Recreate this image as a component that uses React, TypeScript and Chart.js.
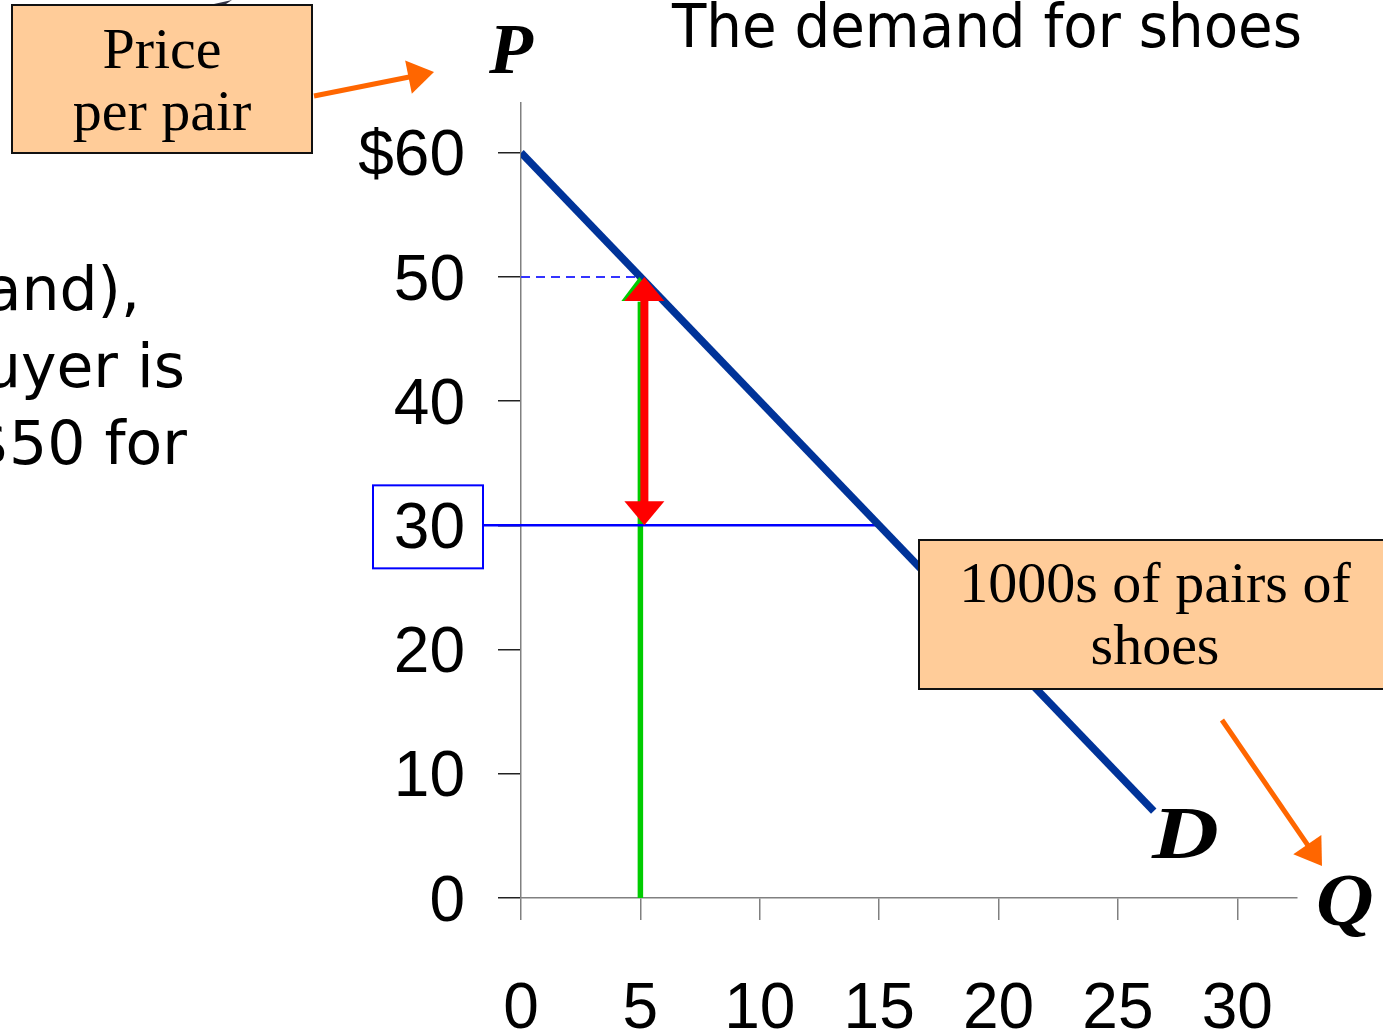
import React, { useEffect, useRef } from 'react';
import { Chart, registerables } from 'chart.js';

Chart.register(...registerables);

// ---- data ----
const demandQ = [0, 26.5];
const demandP = [60, 7];
const xTicks = [0, 5, 10, 15, 20, 25, 30];
const yTicks = [0, 10, 20, 30, 40, 50, 60];
const buyerQ = 5;
const willingPrice = 50;
const marketPrice = 30;
const marketQ = 15;
const xMax = 32.5;
const yMax = 64;
const titleText = 'The demand for shoes';
const sideLines = ['and),', 'uyer is', '$50 for'];
const priceBoxLines = ['Price', 'per pair'];
const qtyBoxLines = ['1000s of pairs of', 'shoes'];

const W = 1383;
const H = 1035;

function head(ctx: CanvasRenderingContext2D, x: number, y: number, angle: number, len: number, halfW: number, color: string) {
  ctx.save();
  ctx.translate(x, y);
  ctx.rotate(angle);
  ctx.beginPath();
  ctx.moveTo(0, 0);
  ctx.lineTo(-len, -halfW);
  ctx.lineTo(-len, halfW);
  ctx.closePath();
  ctx.fillStyle = color;
  ctx.fill();
  ctx.restore();
}

function orangeArrow(ctx: CanvasRenderingContext2D, x1: number, y1: number, x2: number, y2: number) {
  const a = Math.atan2(y2 - y1, x2 - x1);
  const len = 26;
  ctx.save();
  ctx.strokeStyle = '#ff6600';
  ctx.lineWidth = 5;
  ctx.beginPath();
  ctx.moveTo(x1, y1);
  ctx.lineTo(x2 - Math.cos(a) * (len - 2), y2 - Math.sin(a) * (len - 2));
  ctx.stroke();
  ctx.restore();
  head(ctx, x2, y2, a, len, 17, '#ff6600');
}

function box(ctx: CanvasRenderingContext2D, x: number, y: number, w: number, h: number) {
  ctx.save();
  ctx.fillStyle = '#ffcc99';
  ctx.fillRect(x, y, w, h);
  ctx.strokeStyle = '#111';
  ctx.lineWidth = 2;
  ctx.strokeRect(x, y, w, h);
  ctx.restore();
}

function wideLetter(ctx: CanvasRenderingContext2D, t: string, x: number, y: number, sx: number) {
  ctx.save();
  ctx.translate(x, y);
  ctx.scale(sx, 1);
  ctx.fillText(t, 0, 0);
  ctx.restore();
}

const overlay = {
  id: 'overlay',
  beforeDatasetsDraw(chart: any) {
    const ctx = chart.ctx as CanvasRenderingContext2D;
    const xs = chart.scales.x;
    const ys = chart.scales.y;
    const py = ys.getPixelForValue(marketPrice);
    ctx.save();
    ctx.strokeStyle = '#0000ff';
    ctx.lineWidth = 2.5;
    ctx.beginPath();
    ctx.moveTo(483, py);
    ctx.lineTo(xs.getPixelForValue(0), py);
    ctx.stroke();
    ctx.restore();
  },
  afterDatasetsDraw(chart: any) {
    const ctx = chart.ctx as CanvasRenderingContext2D;
    const xs = chart.scales.x;
    const ys = chart.scales.y;
    const qx = xs.getPixelForValue(buyerQ);
    const yTop = ys.getPixelForValue(willingPrice);
    const yBot = ys.getPixelForValue(marketPrice);
    head(ctx, qx - 1, yTop, -Math.PI / 2, 24, 18, '#00cc00');
    const rx = qx + 4;
    ctx.save();
    ctx.strokeStyle = '#ff0000';
    ctx.lineWidth = 8;
    ctx.beginPath();
    ctx.moveTo(rx, yTop + 20);
    ctx.lineTo(rx, yBot - 20);
    ctx.stroke();
    ctx.restore();
    head(ctx, rx, yTop, -Math.PI / 2, 24, 20, '#ff0000');
    head(ctx, rx, yBot, Math.PI / 2, 24, 20, '#ff0000');
  },
  afterDraw(chart: any) {
    const ctx = chart.ctx as CanvasRenderingContext2D;
    const ys = chart.scales.y;
    ctx.save();
    const py = ys.getPixelForValue(marketPrice);
    ctx.strokeStyle = '#0000ff';
    ctx.lineWidth = 2;
    ctx.strokeRect(373, py - 40, 110, 83);

    ctx.fillStyle = '#000';
    ctx.textAlign = 'left';
    ctx.textBaseline = 'alphabetic';
    ctx.font = '60px "DejaVu Sans", Verdana, sans-serif';
    ctx.fillText(titleText, 672, 47, 630);

    ctx.textAlign = 'right';
    const sideX = [140, 185, 187];
    const sideY = [310, 387, 464];
    sideLines.forEach((t, i) => ctx.fillText(t, sideX[i], sideY[i]));

    box(ctx, 12, 5, 300, 148);
    ctx.fillStyle = '#000';
    ctx.textAlign = 'center';
    ctx.font = '58px "Liberation Serif", "Times New Roman", serif';
    ctx.fillText(priceBoxLines[0], 162, 68);
    ctx.fillText(priceBoxLines[1], 162, 130);
    orangeArrow(ctx, 314, 96, 434, 72);

    box(ctx, 919, 540, 480, 149);
    ctx.fillStyle = '#000';
    ctx.fillText(qtyBoxLines[0], 1155, 602);
    ctx.fillText(qtyBoxLines[1], 1155, 664);
    orangeArrow(ctx, 1222, 720, 1322, 866);

    ctx.textAlign = 'left';
    ctx.font = 'italic bold 72px "Liberation Serif", "Times New Roman", serif';
    ctx.fillText('P', 489, 73);
    ctx.font = 'italic bold 74px "Liberation Serif", "Times New Roman", serif';
    wideLetter(ctx, 'D', 1152, 858, 1.25);
    wideLetter(ctx, 'Q', 1316, 925, 1.08);

    ctx.fillStyle = '#333344';
    ctx.beginPath();
    ctx.moveTo(214, 4);
    ctx.lineTo(232, 0);
    ctx.lineTo(226, 4);
    ctx.closePath();
    ctx.fill();
    ctx.restore();
  },
};

export default function App() {
  const ref = useRef<HTMLCanvasElement | null>(null);
  useEffect(() => {
    if (!ref.current) return;
    const tickFont = { family: '"Liberation Sans", Arial, sans-serif', size: 64 };
    const chart = new Chart(ref.current, {
      type: 'scatter',
      data: {
        datasets: [
          {
            label: 'Demand',
            data: demandQ.map((q, i) => ({ x: q, y: demandP[i] })),
            showLine: true,
            borderColor: '#003399',
            borderWidth: 7.5,
            pointRadius: 0,
            borderCapStyle: 'butt',
          },
          {
            label: 'Market price',
            data: [
              { x: 0, y: marketPrice },
              { x: marketQ, y: marketPrice },
            ],
            showLine: true,
            borderColor: '#0000ff',
            borderWidth: 2.5,
            pointRadius: 0,
          },
          {
            label: 'Willingness',
            data: [
              { x: 0, y: willingPrice },
              { x: buyerQ, y: willingPrice },
            ],
            showLine: true,
            borderColor: '#3333ff',
            borderWidth: 2,
            borderDash: [9, 6],
            pointRadius: 0,
          },
          {
            label: 'Quantity',
            data: [
              { x: buyerQ, y: 0 },
              { x: buyerQ, y: willingPrice - 2 },
            ],
            showLine: true,
            borderColor: '#00cc00',
            borderWidth: 5.5,
            pointRadius: 0,
          },
        ],
      },
      options: {
        responsive: false,
        animation: false,
        events: [],
        layout: { padding: { left: 0, right: 86, top: 103, bottom: 0 } },
        plugins: { legend: { display: false }, tooltip: { enabled: false }, title: { display: false } },
        scales: {
          x: {
            type: 'linear',
            min: 0,
            max: xMax,
            afterBuildTicks: (s: any) => {
              s.ticks = xTicks.map((v) => ({ value: v }));
            },
            afterFit: (s: any) => {
              s.height = H - 898;
            },
            border: { display: true, color: '#808080', width: 1.5 },
            grid: { drawOnChartArea: false, drawTicks: true, tickLength: 22, color: '#808080', lineWidth: 1.5 },
            ticks: { font: tickFont, color: '#000', padding: 52, maxRotation: 0, autoSkip: false },
          },
          y: {
            type: 'linear',
            min: 0,
            max: yMax,
            afterBuildTicks: (s: any) => {
              s.ticks = yTicks.map((v) => ({ value: v }));
            },
            afterFit: (s: any) => {
              s.width = 521;
            },
            border: { display: true, color: '#808080', width: 1.5 },
            grid: { drawOnChartArea: false, drawTicks: true, tickLength: 23, color: '#222', lineWidth: 1.5 },
            ticks: {
              font: tickFont,
              color: '#000',
              padding: 33,
              labelOffset: 5,
              autoSkip: false,
              callback: (v: any) => (v === 60 ? '$' + v : String(v)),
            },
          },
        },
      },
      plugins: [overlay],
    } as any);
    return () => chart.destroy();
  }, []);
  return (
    <div style={{ position: 'fixed', left: 0, top: 0, width: W, height: H, background: '#fff' }}>
      <canvas ref={ref} width={W} height={H} style={{ display: 'block' }} />
    </div>
  );
}
